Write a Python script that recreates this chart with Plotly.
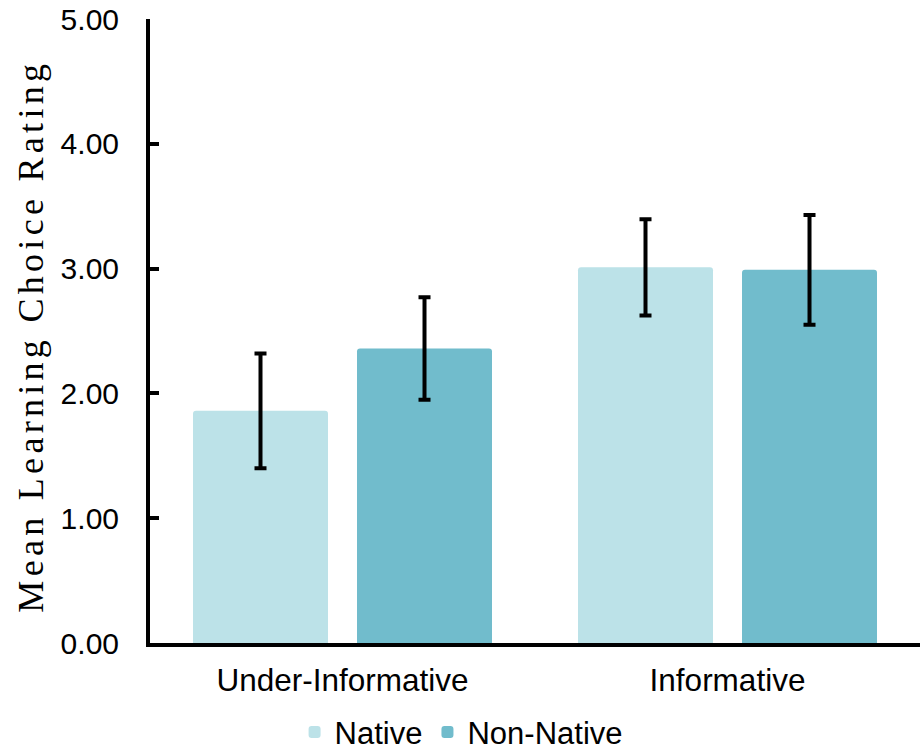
import plotly.graph_objects as go

categories = ["Under-Informative", "Informative"]
series_names = ["Native", "Non-Native"]
native_means = [1.86, 3.01]
nonnative_means = [2.36, 2.99]
native_err = [0.46, 0.385]
nonnative_err = [0.41, 0.44]
colors = ["#BCE2E8", "#71BCCC"]
y_ticks = [0, 1, 2, 3, 4, 5]

SANS = "Arial, Liberation Sans, sans-serif"
SERIF = "Times New Roman, Liberation Serif, serif"

fig = go.Figure()
for name, vals, errs, col in zip(series_names, [native_means, nonnative_means],
                                 [native_err, nonnative_err], colors):
    fig.add_trace(go.Bar(
        name=name, x=categories, y=vals, marker=dict(color=col, line=dict(width=0)),
        error_y=dict(type="data", array=errs, visible=True, color="black",
                     thickness=4, width=6),
    ))

fig.update_layout(
    width=921, height=755,
    margin=dict(l=150, r=1, t=19, b=112, autoexpand=False),
    plot_bgcolor="white", paper_bgcolor="white",
    barmode="group", bargap=0.148, bargroupgap=0.177, barcornerradius=3,
    font=dict(family=SANS, size=30, color="black"),
    showlegend=True,
    legend=dict(orientation="h", x=0.404, xanchor="center", y=-0.143, yanchor="middle",
                font=dict(family=SANS, size=31, color="black"), traceorder="normal",
                itemwidth=30),
)
fig.update_xaxes(
    showline=True, linewidth=4, linecolor="black", showgrid=False, ticks="",
    tickfont=dict(family=SANS, size=31.5, color="black"), ticklabelstandoff=6,
)
fig.update_yaxes(
    range=[0, 5], tickvals=y_ticks, tickformat=".2f",
    showline=True, linewidth=4, linecolor="black", showgrid=False, zeroline=False,
    ticks="inside", ticklen=9, tickwidth=4, tickcolor="black",
    tickfont=dict(family=SANS, size=30, color="black"), ticklabelstandoff=21,
)
fig.add_annotation(
    text='<span style="letter-spacing:4.3px">Mean Learning Choice Rating</span>',
    xref="paper", yref="paper", x=-0.155, y=0.492, xanchor="center", yanchor="middle",
    textangle=-90, showarrow=False, font=dict(family=SERIF, size=36, color="black"),
)
fig.write_html("out.html", config={"displayModeBar": False},
               post_script="document.body.style.margin='0';document.body.style.overflow='hidden';")
